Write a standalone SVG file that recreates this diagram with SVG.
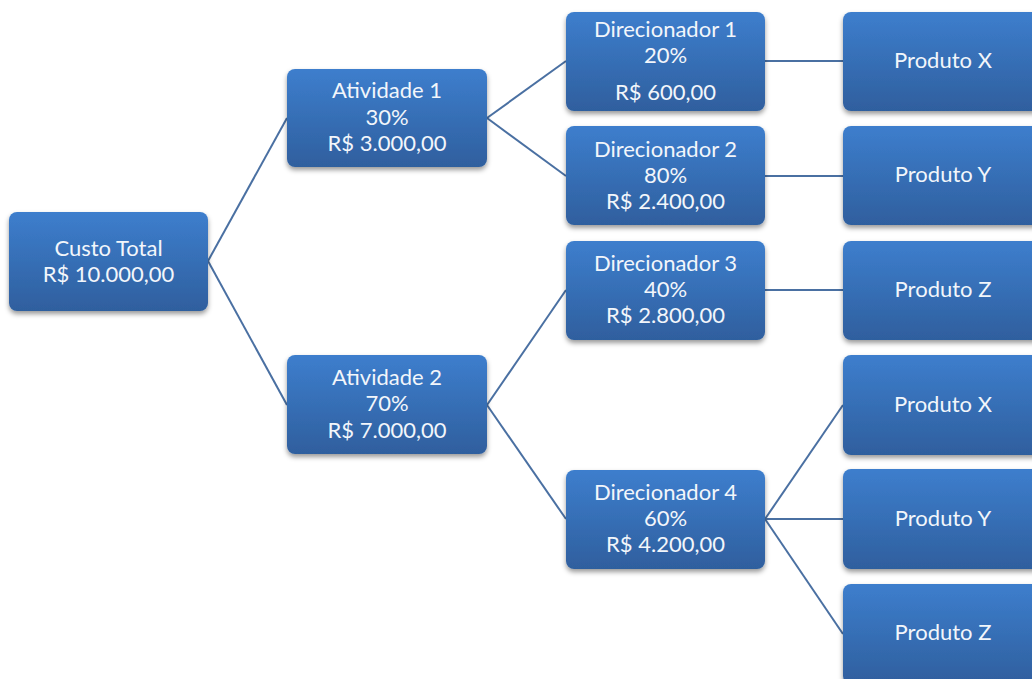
<svg xmlns="http://www.w3.org/2000/svg" width="1032" height="679" viewBox="0 0 1032 679">
  <defs>
    <linearGradient id="boxFill" x1="0" y1="0" x2="0" y2="1">
      <stop offset="0" stop-color="#3d7ecd"/>
      <stop offset="1" stop-color="#2f5f9e"/>
    </linearGradient>
    <filter id="shadow" x="-10%" y="-10%" width="125%" height="130%">
      <feDropShadow dx="0" dy="3" stdDeviation="2.5" flood-color="#000" flood-opacity="0.4"/>
    </filter>
  </defs>
  <style>
    .box { fill: url(#boxFill); filter: url(#shadow); }
    .lbl { font-family: Lato, "Open Sans", "Liberation Sans", sans-serif; font-size: 22px; fill: #f2f6fb; text-anchor: middle; }
    .conn line { stroke: #4a70a2; stroke-width: 2; fill: none; }
  </style>
  <rect width="1032" height="679" fill="#ffffff"/>

  <!-- connectors -->
  <g id="connectors" class="conn">
    <line x1="208" y1="261" x2="287" y2="118"/>
    <line x1="208" y1="261" x2="287" y2="405"/>
    <line x1="487" y1="118" x2="566" y2="61"/>
    <line x1="487" y1="118" x2="566" y2="176"/>
    <line x1="487" y1="405" x2="566" y2="290"/>
    <line x1="487" y1="405" x2="566" y2="519"/>
    <line x1="765" y1="61" x2="843" y2="61"/>
    <line x1="765" y1="176" x2="843" y2="176"/>
    <line x1="765" y1="290" x2="843" y2="290"/>
    <line x1="765" y1="519" x2="843" y2="405"/>
    <line x1="765" y1="519" x2="843" y2="519"/>
    <line x1="765" y1="519" x2="843" y2="634"/>
  </g>

  <!-- root -->
  <g id="custo-total">
    <rect class="box" x="9" y="212" width="199" height="99" rx="8"/>
    <text class="lbl" x="108.5" y="256">Custo Total</text>
    <text class="lbl" x="108.5" y="282">R$ 10.000,00</text>
  </g>

  <!-- activities -->
  <g id="atividade-1">
    <rect class="box" x="287" y="69" width="200" height="98" rx="8"/>
    <text class="lbl" x="387" y="98">Atividade 1</text>
    <text class="lbl" x="387" y="125">30%</text>
    <text class="lbl" x="387" y="151">R$ 3.000,00</text>
  </g>
  <g id="atividade-2">
    <rect class="box" x="287" y="355" width="200" height="99" rx="8"/>
    <text class="lbl" x="387" y="385">Atividade 2</text>
    <text class="lbl" x="387" y="411">70%</text>
    <text class="lbl" x="387" y="438">R$ 7.000,00</text>
  </g>

  <!-- cost drivers -->
  <g id="direcionador-1">
    <rect class="box" x="566" y="12" width="199" height="99" rx="8"/>
    <text class="lbl" x="665.5" y="37">Direcionador 1</text>
    <text class="lbl" x="665.5" y="63">20%</text>
    <text class="lbl" x="665.5" y="100">R$ 600,00</text>
  </g>
  <g id="direcionador-2">
    <rect class="box" x="566" y="126" width="199" height="99" rx="8"/>
    <text class="lbl" x="665.5" y="157">Direcionador 2</text>
    <text class="lbl" x="665.5" y="183">80%</text>
    <text class="lbl" x="665.5" y="209">R$ 2.400,00</text>
  </g>
  <g id="direcionador-3">
    <rect class="box" x="566" y="241" width="199" height="99" rx="8"/>
    <text class="lbl" x="665.5" y="271">Direcionador 3</text>
    <text class="lbl" x="665.5" y="297">40%</text>
    <text class="lbl" x="665.5" y="323">R$ 2.800,00</text>
  </g>
  <g id="direcionador-4">
    <rect class="box" x="566" y="470" width="199" height="99" rx="8"/>
    <text class="lbl" x="665.5" y="500">Direcionador 4</text>
    <text class="lbl" x="665.5" y="526">60%</text>
    <text class="lbl" x="665.5" y="552">R$ 4.200,00</text>
  </g>

  <!-- products -->
  <g id="produto-x-1">
    <rect class="box" x="843" y="12" width="205" height="99" rx="8"/>
    <text class="lbl" x="943" y="68">Produto X</text>
  </g>
  <g id="produto-y-1">
    <rect class="box" x="843" y="126" width="205" height="99" rx="8"/>
    <text class="lbl" x="943" y="182">Produto Y</text>
  </g>
  <g id="produto-z-1">
    <rect class="box" x="843" y="241" width="205" height="99" rx="8"/>
    <text class="lbl" x="943" y="297">Produto Z</text>
  </g>
  <g id="produto-x-2">
    <rect class="box" x="843" y="355" width="205" height="100" rx="8"/>
    <text class="lbl" x="943" y="412">Produto X</text>
  </g>
  <g id="produto-y-2">
    <rect class="box" x="843" y="469" width="205" height="100" rx="8"/>
    <text class="lbl" x="943" y="526">Produto Y</text>
  </g>
  <g id="produto-z-2">
    <rect class="box" x="843" y="584" width="205" height="100" rx="8"/>
    <text class="lbl" x="943" y="640">Produto Z</text>
  </g>
</svg>
